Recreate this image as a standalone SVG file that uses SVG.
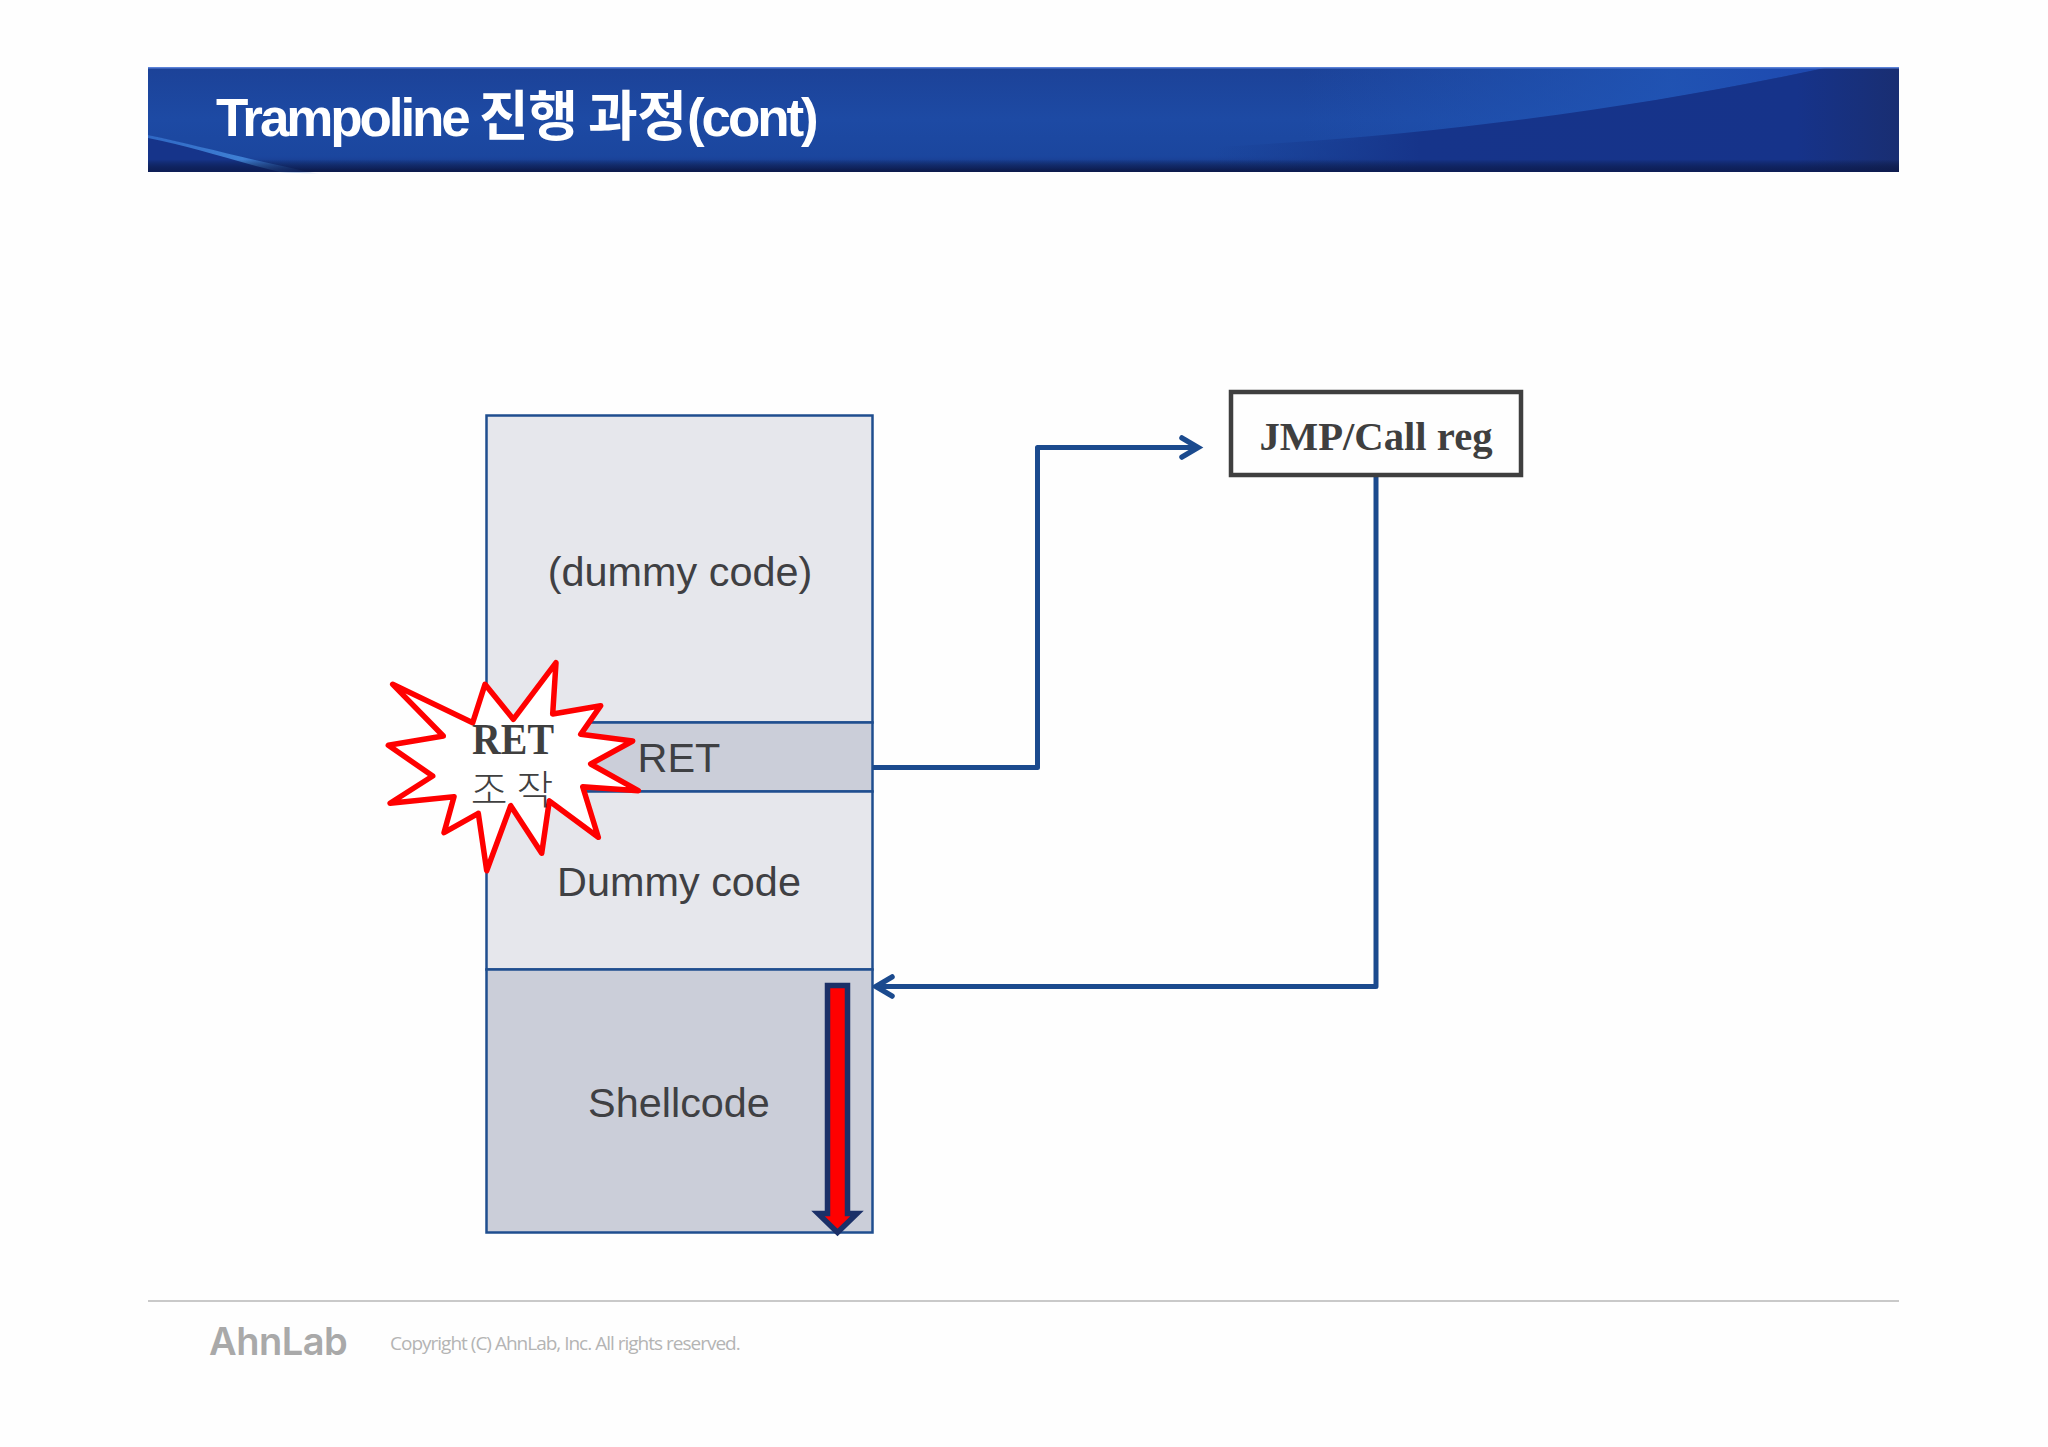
<svg xmlns="http://www.w3.org/2000/svg" width="2048" height="1447" viewBox="0 0 2048 1447">
<defs>
<linearGradient id="bandV" x1="0" y1="0" x2="0" y2="1">
<stop offset="0" stop-color="#1c4298"/><stop offset="0.5" stop-color="#1d4aa4"/><stop offset="0.85" stop-color="#1b469e"/><stop offset="0.96" stop-color="#17378a"/><stop offset="1" stop-color="#122868"/>
</linearGradient>
<linearGradient id="bandR" x1="0" y1="0" x2="1" y2="0">
<stop offset="0" stop-color="#173a8c" stop-opacity="0"/><stop offset="0.3" stop-color="#16348a"/><stop offset="0.85" stop-color="#16338a"/><stop offset="1" stop-color="#192e72"/>
</linearGradient>
<linearGradient id="glow" x1="0" y1="0" x2="1" y2="0">
<stop offset="0" stop-color="#2156b8" stop-opacity="0"/><stop offset="0.7" stop-color="#2156b8" stop-opacity="0.8"/><stop offset="1" stop-color="#1e48b0"/>
</linearGradient>
<linearGradient id="bandB" x1="0" y1="0" x2="0" y2="1">
<stop offset="0" stop-color="#000" stop-opacity="0"/><stop offset="0.88" stop-color="#000" stop-opacity="0"/><stop offset="1" stop-color="#0a1440" stop-opacity="0.7"/>
</linearGradient>
<linearGradient id="edge" x1="0" y1="0" x2="1" y2="0">
<stop offset="0" stop-color="#2f68c4"/><stop offset="0.55" stop-color="#3f80d4"/><stop offset="1" stop-color="#2f68c4" stop-opacity="0"/>
</linearGradient>
<style>
.cell{stroke:#1f4e8f;stroke-width:2.5}
.light{fill:#e6e7ec}
.dark{fill:#cbced9}
.lbl{font-family:"Liberation Sans",Arial,sans-serif;font-size:41.4px;fill:#3f4043;text-anchor:middle}
.ser{font-family:"Liberation Serif","Times New Roman",serif;font-weight:bold;fill:#3f3f3f}
.conn{fill:none;stroke:#1b4a8e;stroke-width:5;stroke-linejoin:round}
.head{fill:none;stroke:#1b4a8e;stroke-width:5.5;stroke-linecap:round;stroke-linejoin:miter}
</style>
</defs>
<rect width="2048" height="1447" fill="#fefefe"/>
<g id="banner">
<rect x="148" y="67" width="1751" height="105" fill="url(#bandV)"/>
<path d="M1300 145 C1480 130 1650 105 1830 67 L1300 67Z" fill="url(#glow)"/>
<path d="M1215 172 L1215 147 C1450 135 1650 105 1830 67 L1899 67 L1899 172Z" fill="url(#bandR)"/>
<path d="M148 135 C200 147 250 160 305 172 L148 172Z" fill="#16348a"/>
<path d="M148 135 C200 146 250 160 320 174 L280 172 C230 160 190 146 148 138Z" fill="url(#edge)"/>
<rect x="148" y="67" width="1751" height="105" fill="url(#bandB)"/>
<rect x="148" y="67" width="1751" height="1.5" fill="#5b82d8"/>
<text x="216" y="136" font-family="'Liberation Sans','Noto Sans CJK KR',Arial,sans-serif" font-weight="bold" font-size="53" letter-spacing="-3.1" fill="#ffffff">Trampoline<tspan x="479" y="136" font-family="'Noto Sans CJK KR',sans-serif" font-size="50" letter-spacing="-0.5" style="font-size:54px">진행</tspan><tspan x="588" y="136" font-family="'Noto Sans CJK KR',sans-serif" letter-spacing="-0.5" style="font-size:54px">과정</tspan><tspan x="687" y="136">(cont)</tspan></text>
</g>
<g id="connectors">
<path class="conn" d="M872 767.5 H1037.5 V447.5 H1194"/>
<path class="head" d="M1182 438 L1198 447.5 L1182 457"/>
<path class="conn" d="M1376 475 V986.5 H878"/>
<path class="head" d="M892 977 L876 986.5 L892 996"/>
</g>
<g id="stack-dummy-top">
<rect class="cell light" x="486.5" y="415.5" width="386" height="307"/>
<text class="lbl" x="680" y="586">(dummy code)</text>
</g>
<g id="stack-ret">
<rect class="cell dark" x="486.5" y="722.5" width="386" height="69"/>
<text class="lbl" x="679" y="772">RET</text>
</g>
<g id="stack-dummy-bottom">
<rect class="cell light" x="486.5" y="791.5" width="386" height="178"/>
<text class="lbl" x="679" y="896">Dummy code</text>
</g>
<g id="stack-shellcode">
<rect class="cell dark" x="486.5" y="969.5" width="386" height="263"/>
<text class="lbl" x="679" y="1117">Shellcode</text>
</g>
<g id="red-arrow">
<polygon points="827.5,985.5 847.5,985.5 847.5,1213.5 857,1213.5 837.5,1232.5 818,1213.5 827.5,1213.5" fill="#ff0000" stroke="#1b3068" stroke-width="5.5" stroke-miterlimit="6"/>
</g>
<g id="burst">
<polygon points="392.7,684.3 472.7,722.7 485,684.3 513.3,719.3 556,662.7 552.7,714 600.7,705.7 580.7,734.3 632.7,741 590.7,764 638.3,790.7 582.7,786.7 598.3,837.3 549.3,801 541.7,853.3 510.7,805.7 486.7,870.7 478.3,813.3 444,832.7 454,796.7 390,803.3 432.7,776 388.3,745.3 443.3,736" fill="#ffffff" stroke="#ff0000" stroke-width="5.5" stroke-linejoin="round"/>
<text class="ser" x="472" y="754" font-size="45" textLength="82" lengthAdjust="spacingAndGlyphs">RET</text>
<text x="512" y="804" font-family="'Noto Sans CJK KR',sans-serif" font-weight="300" font-size="40" fill="#404040" text-anchor="middle">조 작</text>
</g>
<g id="jmp-box">
<rect x="1231" y="392" width="290" height="83" fill="#fefefe" stroke="#3f3f3f" stroke-width="4.5"/>
<text class="ser" x="1376" y="450" font-size="40.7" text-anchor="middle">JMP/Call reg</text>
</g>
<g id="footer">
<rect x="148" y="1300" width="1751" height="2" fill="#c9c9c9"/>
<text x="209" y="1355" font-family="Inter,'Noto Sans',sans-serif" font-weight="600" font-size="38" letter-spacing="-0.5" fill="#a9a9a9">AhnLab</text>
<text x="390" y="1350" font-family="'Open Sans','Noto Sans',sans-serif" font-size="19" letter-spacing="-1" fill="#b4b4b4">Copyright (C) AhnLab, Inc. All rights reserved.</text>
</g>
</svg>
